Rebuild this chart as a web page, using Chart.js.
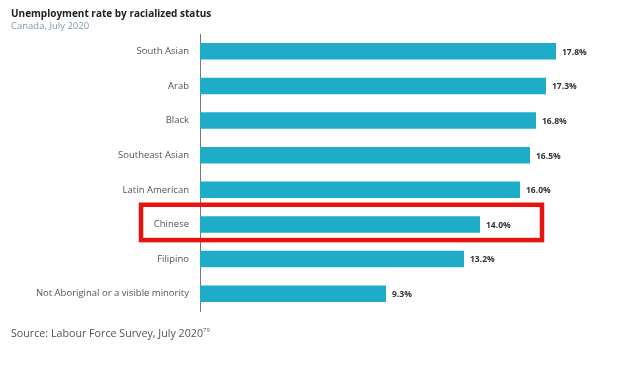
<!DOCTYPE html>
<html>
<head>
<meta charset="utf-8">
<script src="https://cdn.jsdelivr.net/npm/chart.js@4"></script>
<style>
  body { margin: 0; background: #fff; }
  #wrap { position: absolute; left: 0; top: 0; width: 640px; height: 366px; }
  .txt { position: absolute; font-family: "Open Sans", sans-serif; white-space: nowrap; }
  #title { left: 11px; top: 6px; font-size: 10px; font-weight: 700; color: #222; }
  #sub { left: 11px; top: 19px; font-size: 9.5px; color: #7a9aaa; }
  #source { left: 11px; top: 326px; font-size: 10.7px; color: #555; }
  #source sup { font-size: 6px; }
</style>
</head>
<body>
<div id="wrap"><canvas id="chart"></canvas></div>
<div class="txt" id="title">Unemployment rate by racialized status</div>
<div class="txt" id="sub">Canada, July 2020</div>
<div class="txt" id="source">Source: Labour Force Survey, July 2020<sup>79</sup></div>
<script>
const groups = ['South Asian', 'Arab', 'Black', 'Southeast Asian', 'Latin American', 'Chinese', 'Filipino', 'Not Aboriginal or a visible minority'];
const rates = [17.8, 17.3, 16.8, 16.5, 16.0, 14.0, 13.2, 9.3];
const highlighted = 'Chinese';

// percent labels at the end of each bar
const valueLabels = {
  id: 'valueLabels',
  afterDatasetsDraw(chart) {
    const ctx = chart.ctx;
    const meta = chart.getDatasetMeta(0);
    ctx.save();
    ctx.font = '700 8.5px "Open Sans", sans-serif';
    ctx.fillStyle = '#333';
    ctx.textBaseline = 'middle';
    meta.data.forEach((bar, i) => {
      ctx.fillText(rates[i].toFixed(1) + '%', bar.x + 6, bar.y + 1);
    });
    ctx.restore();
  }
};

// red box around the highlighted row
const highlightBox = {
  id: 'highlightBox',
  afterDraw(chart) {
    const y = chart.scales.y;
    const x = chart.scales.x;
    const i = groups.indexOf(highlighted);
    const cy = y.getPixelForValue(i) - 2;
    const half = (y.getPixelForValue(1) - y.getPixelForValue(0)) * 0.51;
    const ctx = chart.ctx;
    ctx.save();
    ctx.strokeStyle = '#e8120e';
    ctx.lineWidth = 4.5;
    const left = chart.chartArea.left - 59;
    const right = x.getPixelForValue(17.1);
    ctx.strokeRect(left, cy - half, right - left, half * 2);
    ctx.restore();
  }
};

new Chart(document.getElementById('chart'), {
  type: 'bar',
  data: {
    labels: groups,
    datasets: [{
      data: rates,
      backgroundColor: '#1eacc8',
      barPercentage: 0.6,
      categoryPercentage: 0.8
    }]
  },
  options: {
    indexAxis: 'y',
    responsive: true,
    maintainAspectRatio: false,
    animation: false,
    layout: { padding: { top: 34, bottom: 55, left: 0, right: 40 } },
    plugins: { legend: { display: false }, tooltip: { enabled: false } },
    scales: {
      x: { display: false, min: 0, max: 20 },
      y: {
        afterFit(scale) { scale.width = 200; },
        grid: { display: false },
        border: { display: true, color: '#777', width: 1 },
        ticks: {
          color: '#555',
          padding: 3,
          font: { family: '"Open Sans", sans-serif', size: 9.5 }
        }
      }
    }
  },
  plugins: [valueLabels, highlightBox]
});
</script>
</body>
</html>
